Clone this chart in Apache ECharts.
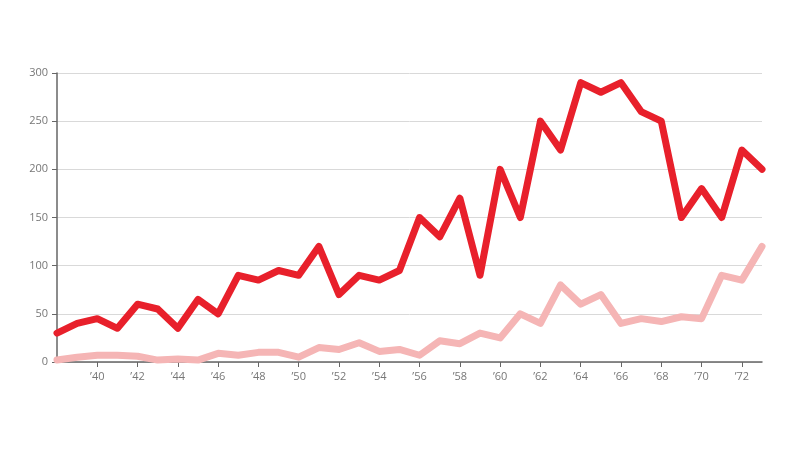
<!DOCTYPE html>
<html>
<head>
<meta charset="utf-8">
<script src="https://cdn.jsdelivr.net/npm/echarts@6/dist/echarts.min.js"></script>
<style>
  html, body { margin: 0; padding: 0; background: #fff; }
  #chart { width: 800px; height: 450px; }
</style>
</head>
<body>
<div id="chart"></div>
<script>
var years = [];
for (var y = 1938; y <= 1973; y++) years.push(y);

var darkValues = [30, 40, 45, 35, 60, 55, 35, 65, 50, 90, 85, 95, 90, 120, 70, 90, 85, 95,
  150, 130, 170, 90, 200, 150, 250, 220, 290, 280, 290, 260, 250, 150, 180, 150, 220, 200];
var lightValues = [2, 5, 7, 7, 6, 2, 3, 2, 9, 7, 10, 10, 5, 15, 13, 20, 11, 13,
  7, 22, 19, 30, 25, 50, 40, 80, 60, 70, 40, 45, 42, 47, 45, 90, 85, 120];
var yTicks = [0, 50, 100, 150, 200, 250, 300];

const showEven = (i) => i > 0 && i % 2 === 0;

const getOptionChart = () => {
  return {
    animation: false,
    grid: { left: 57, right: 38, top: 73, bottom: 88 },
    xAxis: {
      type: 'category',
      data: years,
      boundaryGap: false,
      axisLine: { lineStyle: { color: '#666', width: 1.5 } },
      axisTick: { interval: showEven, length: 5, lineStyle: { color: '#666' } },
      axisLabel: {
        interval: showEven,
        color: '#777',
        fontSize: 11,
        fontFamily: 'Open Sans',
        margin: 9,
        formatter: (v) => '\u2019' + String(v).slice(2)
      },
      splitLine: { show: false }
    },
    yAxis: {
      type: 'value',
      min: yTicks[0],
      max: yTicks[yTicks.length - 1],
      interval: 50,
      axisLine: { show: true, lineStyle: { color: '#666', width: 1.5 } },
      axisTick: { show: true, length: 5, lineStyle: { color: '#666' } },
      axisLabel: { color: '#777', fontSize: 11, fontFamily: 'Open Sans', margin: 9 },
      splitLine: { lineStyle: { color: '#d9d9d9', width: 1 } }
    },
    series: [
      {
        type: 'line',
        data: lightValues,
        symbol: 'none',
        lineStyle: { color: '#f5b5b5', width: 7, join: 'round', cap: 'round' },
        itemStyle: { color: '#f5b5b5' }
      },
      {
        type: 'line',
        data: darkValues,
        symbol: 'none',
        lineStyle: { color: '#e8202b', width: 7, join: 'round', cap: 'round' },
        itemStyle: { color: '#e8202b' }
      }
    ]
  };
};

const initCharts = () => {
  const chart = echarts.init(document.getElementById('chart'));
  chart.setOption(getOptionChart());
};

window.addEventListener("load", () => {
  initCharts();
});
</script>
</body>
</html>
